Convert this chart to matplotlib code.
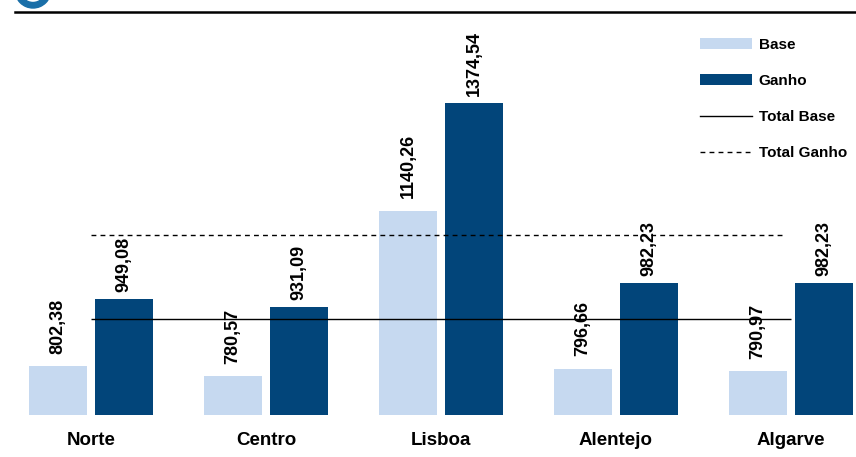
import matplotlib

matplotlib.use("Agg")
import matplotlib.pyplot as plt
import numpy as np
from matplotlib.lines import Line2D
from matplotlib.patches import Patch, Wedge

plt.rcParams["font.family"] = ["Liberation Sans", "DejaVu Sans"]

regions = ["Norte", "Centro", "Lisboa", "Alentejo", "Algarve"]
base = [802.38, 780.57, 1140.26, 796.66, 790.97]
ganho = [949.08, 931.09, 1374.54, 982.23, 982.23]
total_base = 905.0
total_ganho = 1087.0

BASE_C = "#c6d9f0"
GANHO_C = "#02457a"

W, H = 856, 457
fig = plt.figure(figsize=(W / 100, H / 100), dpi=100)

# chart area: bottom at y=415px, top at y=12px
ax = fig.add_axes([0, 1 - 415 / H, 1, (415 - 12) / H])
y0 = 696.0
px_per_unit = 0.46
ax.set_ylim(y0, y0 + (415 - 12) / px_per_unit)
ax.set_xlim(-91 / 175, (W - 91) / 175)

x = np.arange(len(regions))
bw = 58 / 175
off = 33 / 175
ax.bar(x - off, np.array(base) - y0, bottom=y0, width=bw, color=BASE_C)
ax.bar(x + off, np.array(ganho) - y0, bottom=y0, width=bw, color=GANHO_C)

ax.hlines(total_base, 0, 4, color="black", lw=1.0)
ax.hlines(total_ganho, 0, 3.97, color="black", lw=1.0, linestyles=(0, (3.5, 3)))

for xi, v in zip(x - off, base):
    ax.annotate(f"{v:.2f}".replace(".", ","), (xi, v), xytext=(0, 9),
                textcoords="offset points", rotation=90, ha="center", va="bottom",
                fontsize=13, fontweight="bold")
for xi, v in zip(x + off, ganho):
    ax.annotate(f"{v:.2f}".replace(".", ","), (xi, v), xytext=(0, 5),
                textcoords="offset points", rotation=90, ha="center", va="bottom",
                fontsize=13, fontweight="bold")

ax.set_xticks(x)
ax.set_xticklabels(regions, fontsize=13.5, fontweight="bold")
ax.tick_params(axis="x", length=0, pad=12)
ax.set_yticks([])
for s in ax.spines.values():
    s.set_visible(False)
ax.patch.set_visible(False)

handles = [
    Patch(facecolor=BASE_C, edgecolor="none"),
    Patch(facecolor=GANHO_C, edgecolor="none"),
    Line2D([], [], color="black", lw=1.0),
    Line2D([], [], color="black", lw=1.0, linestyle=(0, (3.5, 3))),
]
labels = ["Base", "Ganho", "Total Base", "Total Ganho"]
leg = fig.legend(handles, labels, loc="upper left", bbox_to_anchor=(700 / W, 1 - 38 / H),
                 frameon=False, prop={"size": 11, "weight": "bold"},
                 handlelength=3.4, handleheight=0.7, labelspacing=1.45,
                 handletextpad=0.45, borderaxespad=0, borderpad=0)

# header decoration: rule and partial logo
deco = fig.add_axes([0, 0, 1, 1], zorder=-1)
deco.set_xlim(0, W)
deco.set_ylim(H, 0)
deco.axis("off")
deco.plot([15, W], [11.5, 11.5], color="black", lw=1.8)
deco.add_patch(Wedge((33, -10), 18, 0, 360, width=5.5, color="#1a6fa8"))

fig.savefig("out.png", dpi=100)
